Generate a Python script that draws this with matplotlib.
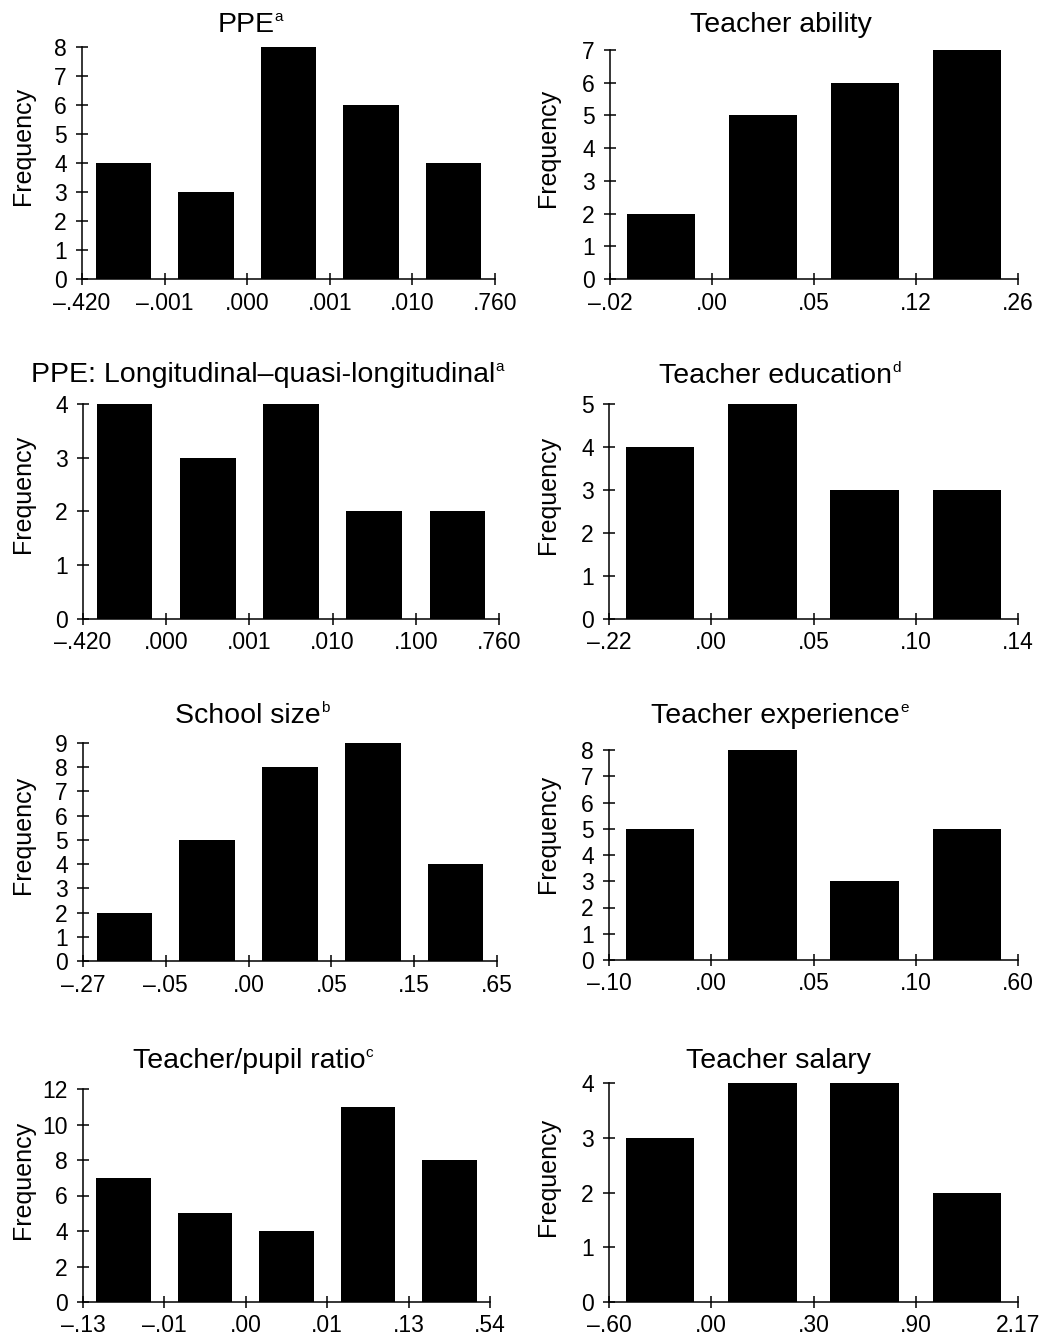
import matplotlib
matplotlib.use("Agg")
import matplotlib.pyplot as plt
import numpy as np

plt.rcParams['font.family'] = ['Liberation Sans', 'DejaVu Sans']

D = "\u2013"

# ---- data ----
titles = [
    "PPE",
    "Teacher ability",
    "PPE: Longitudinal" + D + "quasi-longitudinal",
    "Teacher education",
    "School size",
    "Teacher experience",
    "Teacher/pupil ratio",
    "Teacher salary",
]
title_notes = ["a", "", "a", "d", "b", "e", "c", ""]

ppe_counts = [4, 3, 8, 6, 4]
ppe_edges = [D + ".420", D + ".001", ".000", ".001", ".010", ".760"]

ability_counts = [2, 5, 6, 7]
ability_edges = [D + ".02", ".00", ".05", ".12", ".26"]

ppe_long_counts = [4, 3, 4, 2, 2]
ppe_long_edges = [D + ".420", ".000", ".001", ".010", ".100", ".760"]

education_counts = [4, 5, 3, 3]
education_edges = [D + ".22", ".00", ".05", ".10", ".14"]

size_counts = [2, 5, 8, 9, 4]
size_edges = [D + ".27", D + ".05", ".00", ".05", ".15", ".65"]

experience_counts = [5, 8, 3, 5]
experience_edges = [D + ".10", ".00", ".05", ".10", ".60"]

ratio_counts = [7, 5, 4, 11, 8]
ratio_edges = [D + ".13", D + ".01", ".00", ".01", ".13", ".54"]

salary_counts = [3, 4, 4, 2]
salary_edges = [D + ".60", ".00", ".30", ".90", "2.17"]

y_max = [8, 7, 4, 5, 9, 8, 12, 4]
y_step = [1, 1, 1, 1, 1, 1, 2, 1]

counts_list = [ppe_counts, ability_counts, ppe_long_counts, education_counts,
               size_counts, experience_counts, ratio_counts, salary_counts]
edges_list = [ppe_edges, ability_edges, ppe_long_edges, education_edges,
              size_edges, experience_edges, ratio_edges, salary_edges]

# ---- layout (pixels) ----
W, H = 1042, 1341
fig = plt.figure(figsize=(W / 100, H / 100), dpi=100)
renderer = fig.canvas.get_renderer()

rects = [
    (82, 47, 495, 279),
    (610, 50, 1018, 279),
    (83, 404, 499, 619),
    (609, 404, 1018, 619),
    (83, 743, 497, 961),
    (609, 750, 1018, 960),
    (83, 1089, 490, 1302),
    (609, 1083, 1018, 1302),
]
title_pos = [(250, 32), (781, 32), (267, 382), (780, 383),
             (252, 723), (780, 723), (253, 1068), (778, 1068)]
ylabel_pos = [(23, 146), (548, 148), (23, 494), (548, 495),
              (23, 835), (548, 834), (23, 1180), (548, 1177)]

TITLE_FS = 20.5
SUP_FS = 11

for i in range(8):
    x0, yt, x1, yb = rects[i]
    ax = fig.add_axes([x0 / W, 1 - yb / H, (x1 - x0) / W, (yb - yt) / H])
    counts = counts_list[i]
    edges = edges_list[i]
    n = len(counts)
    ax.bar(np.arange(n) + 0.5, counts, width=0.67, color='black', edgecolor='none')
    ax.set_xlim(0, n)
    ax.set_ylim(0, y_max[i])
    ax.set_xticks(np.arange(n + 1))
    ax.set_xticklabels(edges)
    ax.set_yticks(np.arange(0, y_max[i] + 1, y_step[i]))
    for s in ('top', 'right'):
        ax.spines[s].set_visible(False)
    for s in ('left', 'bottom'):
        ax.spines[s].set_linewidth(1.1)
    ax.tick_params(axis='both', direction='inout', length=8, width=1.1,
                   labelsize=16.5)
    ax.tick_params(axis='x', pad=5)
    ax.tick_params(axis='y', pad=7)

    # title with optional superscript note
    tx, ty = title_pos[i]
    t_main = fig.text(0, 1 - ty / H, titles[i], ha='left', va='baseline',
                      fontsize=TITLE_FS)
    w_main = t_main.get_window_extent(renderer).width
    w_sup = 0
    t_sup = None
    if title_notes[i]:
        t_sup = fig.text(0, 1 - (ty - 11) / H, title_notes[i], ha='left',
                         va='baseline', fontsize=SUP_FS)
        w_sup = t_sup.get_window_extent(renderer).width
    left = tx - (w_main + w_sup) / 2
    t_main.set_x(left / W)
    if t_sup is not None:
        t_sup.set_x((left + w_main) / W)

    lx, ly = ylabel_pos[i]
    fig.text(lx / W, 1 - ly / H, "Frequency", ha='center', va='center',
             rotation=90, fontsize=18)

fig.savefig("out.png", dpi=100)
